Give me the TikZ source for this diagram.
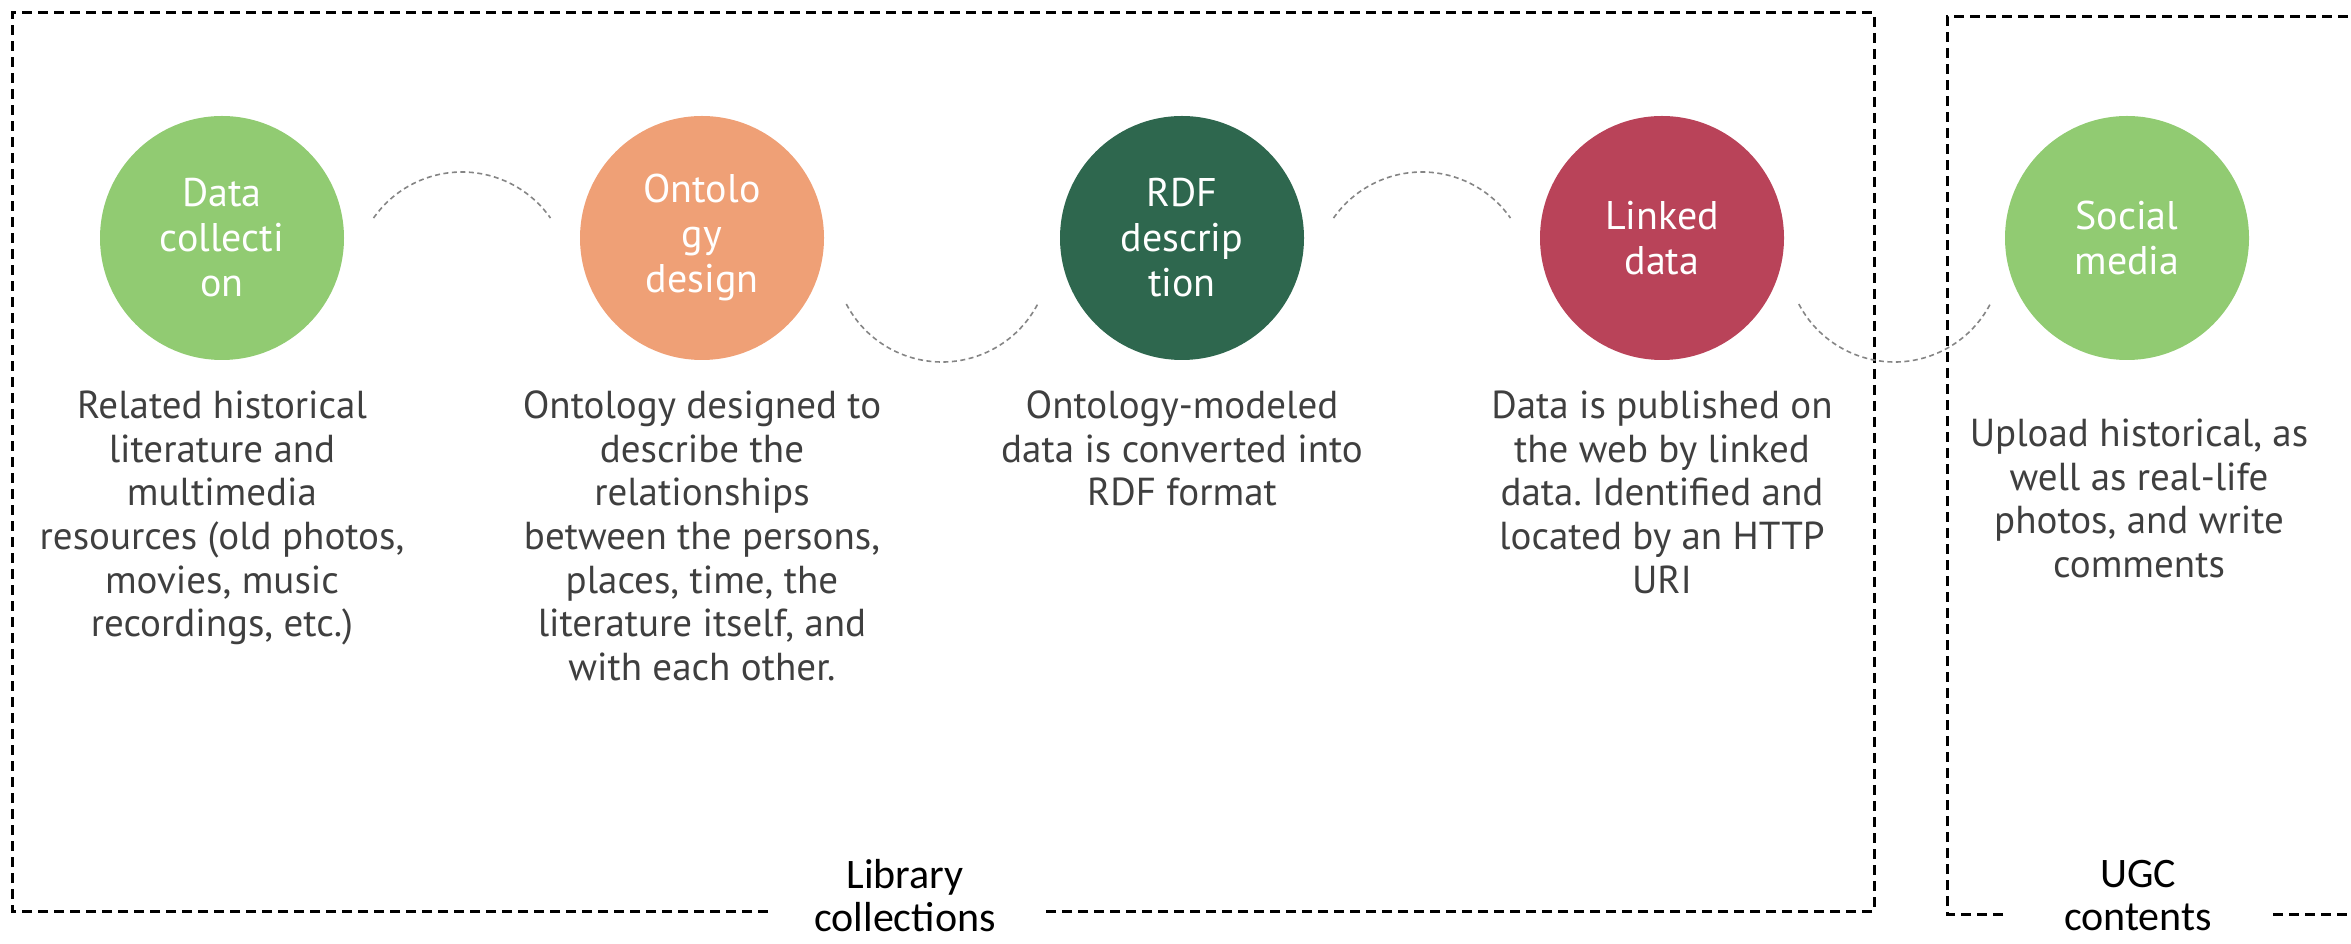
\documentclass[tikz,border=0pt]{standalone}
\usepackage{fontspec}
\usetikzlibrary{calc}
\setmainfont{PT Sans}
\newfontfamily\labelfamily{Carlito}
\frenchspacing
\definecolor{cgreen}{HTML}{91CB72}
\definecolor{corange}{HTML}{EFA076}
\definecolor{cdkgreen}{HTML}{2E674E}
\definecolor{cred}{HTML}{B94359}
\definecolor{descgray}{HTML}{3F3F3F}
\definecolor{arcgray}{HTML}{858585}
\newcommand{\circfont}{\fontsize{40}{45}\selectfont}
\newcommand{\descfont}{\fontsize{39}{43.6}\selectfont}
\newcommand{\labfont}{\labelfamily\fontsize{42}{43}\selectfont}
\begin{document}
\begin{tikzpicture}[x=1pt,y=1pt]
\useasboundingbox (0,0) rectangle (2351,943);
\tikzset{
  bubble/.style={circle, minimum size=244pt, inner sep=0pt, text=white, font=\circfont, align=center},
  desc/.style={align=center, anchor=north, inner sep=0pt, text=descgray, font=\descfont},
  grp/.style={black, line width=3pt, dash pattern=on 10pt off 6pt},
  link/.style={arcgray, line width=1.6pt, dash pattern=on 5pt off 3.5pt},
  grplabel/.style={align=center, font=\labfont, inner sep=0pt, text=black}
}
% group frames
\draw[grp] (768,32) -- (12,32) -- (12,930) -- (1874,930) -- (1874,32) -- (1040,32);
\draw[grp] (2003,29) -- (1947,29) -- (1947,926) -- (2351,926);
\draw[grp] (2273,29) -- (2351,29);
\node[grplabel] (lib) at (905,47) {Library\\collections};
\node[grplabel] (ugc) at (2138,47) {UGC\\contents};
% bubbles
\node[bubble, fill=cgreen]   (dc)  at (222,705)  {Data\\collecti\\on};
\node[bubble, fill=corange]  (od)  at (702,705)  {Ontolo\\gy\\design};
\node[bubble, fill=cdkgreen] (rdf) at (1182,705) {RDF\\descrip\\tion};
\node[bubble, fill=cred]     (ld)  at (1662,705) {Linked\\data};
\node[bubble, fill=cgreen]   (sm)  at (2127,705) {Social\\media};
% arc centres
\coordinate (a1) at ($(dc)!0.5!(od)+(0,-42)$);
\coordinate (a2) at ($(od)!0.5!(rdf)+(0,-16)$);
\coordinate (a3) at ($(rdf)!0.5!(ld)+(0,-42)$);
\coordinate (a4) at ($(ld)!0.5!(sm)+(0,-16)$);
\draw[link] ([shift={(145:108)}]a1) arc[start angle=145, end angle=35, radius=108];
\draw[link] ([shift={(207.6:108)}]a2) arc[start angle=207.6, end angle=332.4, radius=108];
\draw[link] ([shift={(145:108)}]a3) arc[start angle=145, end angle=35, radius=108];
\draw[link] ([shift={(207.6:108)}]a4) arc[start angle=207.6, end angle=332.4, radius=108];
% descriptions
\node[desc] (d1) at (222,555) {\strut Related historical\\literature and\\multimedia\\resources (old photos,\\movies, music\\recordings, etc.)};
\node[desc] (d2) at (702,555) {\strut Ontology designed to\\describe the\\relationships\\between the persons,\\places, time, the\\literature itself, and\\with each other.};
\node[desc] (d3) at (1182,555) {\strut Ontology-modeled\\data is converted into\\RDF format};
\node[desc] (d4) at (1662,555) {\strut Data is published on\\the web by linked\\data. Identified and\\located by an HTTP\\URI};
\node[desc] (d5) at (2139,527) {\strut Upload historical, as\\well as real-life\\photos, and write\\comments};
\end{tikzpicture}
\end{document}
